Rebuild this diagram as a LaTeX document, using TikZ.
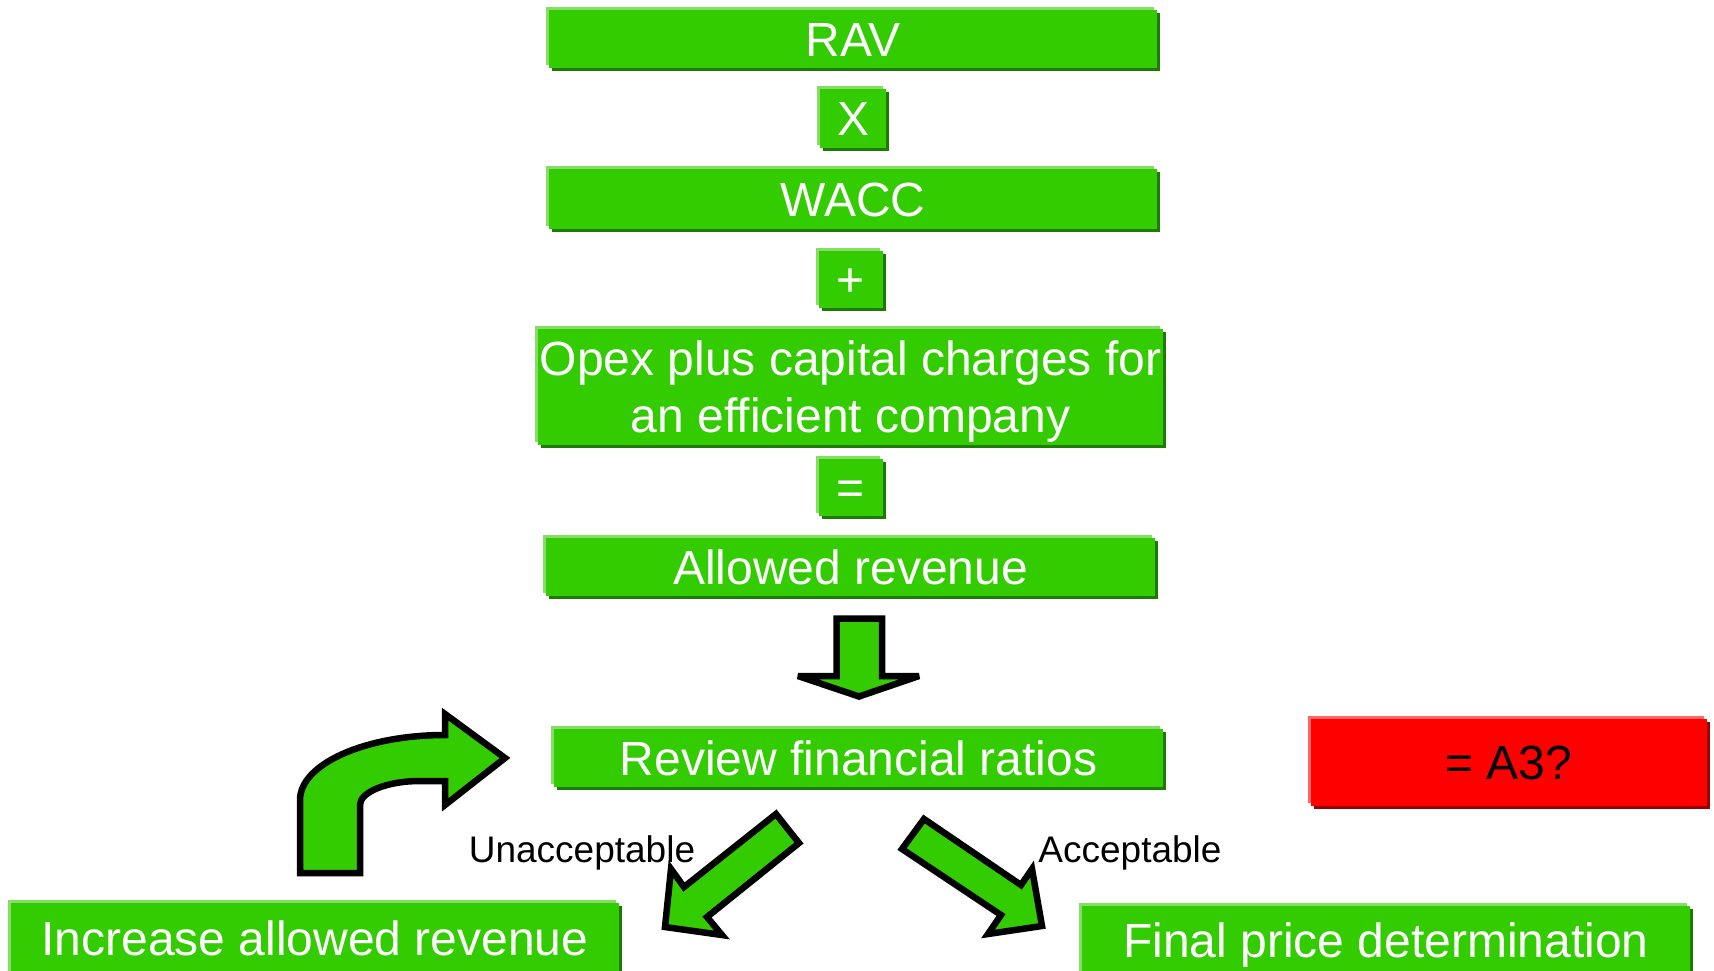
\documentclass[tikz,border=0pt]{standalone}
\usepackage{fontspec}
\setmainfont{Liberation Sans}
\usetikzlibrary{shadows}
\definecolor{gfill}{HTML}{33CC00}
\definecolor{glight}{HTML}{85DD66}
\definecolor{gdark}{HTML}{1F7A00}
\definecolor{rfill}{HTML}{FF0000}
\definecolor{rlight}{HTML}{FF6666}
\definecolor{rdark}{HTML}{990000}
\tikzset{
  boxbase/.style={inner sep=0pt, font=\fontsize{24}{28.5}\selectfont},
  gbox/.style={boxbase, fill=gfill, text=white,
    general shadow={fill=glight, shadow xshift=-1.5pt, shadow yshift=1.5pt},
    general shadow={fill=gdark, shadow xshift=1.5pt, shadow yshift=-1.5pt}},
  rbox/.style={boxbase, fill=rfill, text=black,
    general shadow={fill=rlight, shadow xshift=-1.5pt, shadow yshift=1.5pt},
    general shadow={fill=rdark, shadow xshift=1.5pt, shadow yshift=-1.5pt}},
  oneline/.style={text height=17.2pt, text depth=0pt},
  blockarrow/.style={fill=gfill, draw=black, line width=3.25pt, line join=miter, miter limit=3},
  lbl/.style={inner sep=0pt, text=black, font=\fontsize{18.5}{22}\selectfont, text height=13.3pt, text depth=0pt}
}
\begin{document}
\begin{tikzpicture}[x=0.5pt,y=-0.5pt]
\useasboundingbox (0,0) rectangle (1714,970);
\clip (0,0) rectangle (1714,970);
% boxes
\node[gbox,oneline,minimum width=304pt,minimum height=29pt] (rav) at (853,39) {RAV};
\node[gbox,oneline,minimum width=33pt,minimum height=29.5pt] (times) at (853,118.5) {X};
\node[gbox,oneline,minimum width=304pt,minimum height=30pt] (wacc) at (853,199) {WACC};
\node[gbox,oneline,minimum width=32pt,minimum height=28.5pt] (plus) at (851,279.5) {+};
\node[gbox,align=center,text depth=0pt,minimum width=312.5pt,minimum height=58pt] (opex) at (850.5,387) {Opex plus capital charges for\\an efficient company};
\node[gbox,oneline,minimum width=32pt,minimum height=28.5pt] (equals) at (851,487.5) {=};
\node[gbox,oneline,minimum width=304.5pt,minimum height=29pt] (allowed) at (850.5,567) {Allowed revenue};
\node[gbox,oneline,minimum width=304.5pt,minimum height=29pt] (review) at (858.5,758) {Review financial ratios};
\node[rbox,oneline,minimum width=198pt,minimum height=43.5pt] (a3) at (1508.5,762) {= A3?};
\node[gbox,oneline,minimum width=304pt,minimum height=36pt] (increase) at (315,938.5) {Increase allowed revenue};
\node[gbox,oneline,minimum width=304pt,minimum height=35pt] (final) at (1386,940.5) {Final price determination};
% labels
\node[lbl] (unacc) at (582,849) {Unacceptable};
\node[lbl] (acc) at (1130,849) {Acceptable};
% down arrow
\draw[blockarrow] (836.5,618.5) -- (882,618.5) -- (882,676) -- (919,676) -- (859,696.5) -- (798,676) -- (836.5,676) -- cycle;
% bent arrow
\draw[blockarrow] (300,873) -- (300,800) .. controls (300,764) and (365,735) .. (445,735)
  -- (445,714) -- (505,758) -- (445,805) -- (445,781) -- (420,781)
  .. controls (387,781) and (360,792) .. (360,805) -- (360,873) -- cycle;
% left diagonal arrow
\draw[blockarrow] (776,814) -- (799,843) -- (707,917) -- (722,935) -- (665,927) -- (671,869) -- (684,887) -- cycle;
% right diagonal arrow
\draw[blockarrow] (924,819) -- (902,849) -- (1001,915) -- (988,934) -- (1042,926) -- (1032,869) -- (1021,885) -- cycle;
\end{tikzpicture}
\end{document}
